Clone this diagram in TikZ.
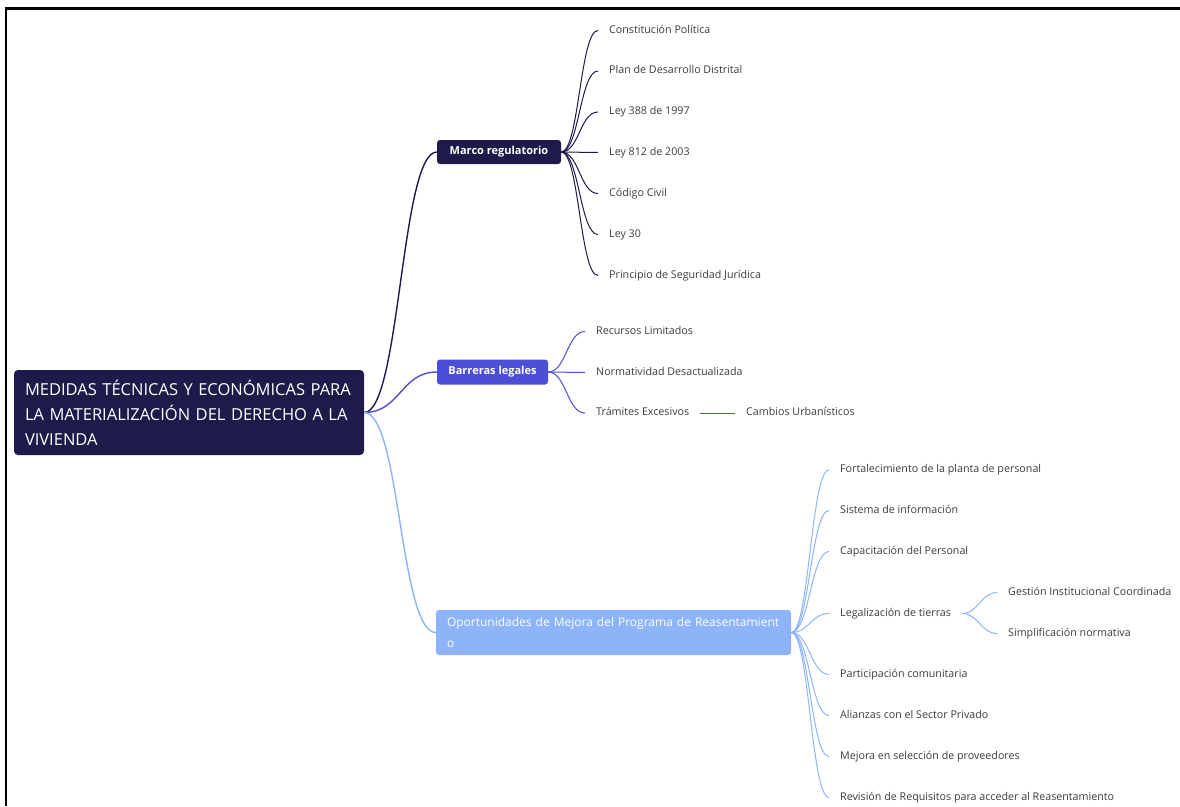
\documentclass[tikz,border=0pt]{standalone}
\usepackage{fontspec}
\setmainfont{Open Sans}
\definecolor{navy}{HTML}{1E1B4B}
\definecolor{indigo}{HTML}{4B4FD6}
\definecolor{sky}{HTML}{8DB4F8}
\definecolor{leafgray}{HTML}{3C3C3C}
\tikzset{rootbox/.style = {fill=navy, text=white, rounded corners=4pt, minimum height=85pt, text width=328pt, inner xsep=11pt, align=left, font=\fontsize{16.5}{25}\selectfont}}
\tikzset{topic/.style = {rounded corners=3pt, text=white, inner sep=0pt, font=\bfseries\fontsize{11}{13}\selectfont}}
\tikzset{leaf/.style = {anchor=west, inner xsep=11pt, inner ysep=0pt, text height=8pt, text depth=2.5pt, text=leafgray, font=\fontsize{10.7}{13}\selectfont}}
\tikzset{branch/.style = {out=0, in=180, distance=#1}}

\begin{document}
\begin{tikzpicture}[x=1pt, y=-1pt]
\useasboundingbox (0,0) rectangle (1180,806);
\draw[line width=2.5pt] (6,806) -- (6,8.5) -- (1180,8.5);
% main topics
\node[rootbox] (root) at (189,412.5) {MEDIDAS TÉCNICAS Y ECONÓMICAS PARA\\LA MATERIALIZACIÓN DEL DERECHO A LA\\VIVIENDA};
\node[topic, fill=navy, minimum width=124pt, minimum height=24pt] (marco) at (499,152) {Marco regulatorio};
\node[topic, fill=indigo, minimum width=111pt, minimum height=25pt] (barreras) at (492.5,372) {Barreras legales};
\node[topic, fill=sky, font=\fontsize{12}{20.5}\selectfont, text width=333pt, inner xsep=11pt, minimum height=45pt, align=left] (mejora) at (613.5,632.5) {\mbox{Oportunidades de Mejora del Programa de Reasentamient}\\o};
\draw[navy, line width=1.4pt] (root.east) to[branch=36pt] (marco.west);
\draw[indigo, line width=1.4pt] (root.east) to[branch=36pt] (barreras.west);
\draw[sky, line width=1.4pt] (root.east) to[branch=36pt] (mejora.west);
% Marco regulatorio
\node[leaf] (cpol) at (598,30.5) {Constitución Política};
\node[leaf] (pdd) at (598,71) {Plan de Desarrollo Distrital};
\node[leaf] (ley388) at (598,112) {Ley 388 de 1997};
\node[leaf] (ley812) at (598,152.5) {Ley 812 de 2003};
\node[leaf] (ccivil) at (598,193.5) {Código Civil};
\node[leaf] (ley30) at (598,234.5) {Ley 30};
\node[leaf] (psj) at (598,275.5) {Principio de Seguridad Jurídica};
\draw[navy, line width=1pt] (marco.east) to[branch=18pt] (cpol.west);
\draw[navy, line width=1pt] (marco.east) to[branch=18pt] (pdd.west);
\draw[navy, line width=1pt] (marco.east) to[branch=18pt] (ley388.west);
\draw[navy, line width=1pt] (marco.east) to[branch=18pt] (ley812.west);
\draw[navy, line width=1pt] (marco.east) to[branch=18pt] (ccivil.west);
\draw[navy, line width=1pt] (marco.east) to[branch=18pt] (ley30.west);
\draw[navy, line width=1pt] (marco.east) to[branch=18pt] (psj.west);
% Barreras legales
\node[leaf] (recursos) at (585,331.5) {Recursos Limitados};
\node[leaf] (normat) at (585,372.5) {Normatividad Desactualizada};
\node[leaf] (tramites) at (585,413) {Trámites Excesivos};
\node[leaf] (cambios) at (735,413) {Cambios Urbanísticos};
\draw[indigo, line width=1pt] (barreras.east) to[branch=18pt] (recursos.west);
\draw[indigo, line width=1pt] (barreras.east) to[branch=18pt] (normat.west);
\draw[indigo, line width=1pt] (barreras.east) to[branch=18pt] (tramites.west);
\draw[indigo, line width=1pt] (tramites.east) -- (cambios.west);
% Oportunidades de mejora
\node[leaf] (fortal) at (829,470) {Fortalecimiento de la planta de personal};
\node[leaf] (sistema) at (829,510.5) {Sistema de información};
\node[leaf] (capac) at (829,551.5) {Capacitación del Personal};
\node[leaf] (legal) at (829,613.5) {Legalización de tierras};
\node[leaf] (partic) at (829,674.5) {Participación comunitaria};
\node[leaf] (alianzas) at (829,715.5) {Alianzas con el Sector Privado};
\node[leaf] (provee) at (829,756.5) {Mejora en selección de proveedores};
\node[leaf] (revision) at (829,797.5) {Revisión de Requisitos para acceder al Reasentamiento};
\node[leaf] (gestion) at (997,592.5) {Gestión Institucional Coordinada};
\node[leaf] (simplif) at (997,633.5) {Simplificación normativa};
\draw[sky, line width=1pt] (mejora.east) to[branch=18pt] (fortal.west);
\draw[sky, line width=1pt] (mejora.east) to[branch=18pt] (sistema.west);
\draw[sky, line width=1pt] (mejora.east) to[branch=18pt] (capac.west);
\draw[sky, line width=1pt] (mejora.east) to[branch=18pt] (legal.west);
\draw[sky, line width=1pt] (mejora.east) to[branch=18pt] (partic.west);
\draw[sky, line width=1pt] (mejora.east) to[branch=18pt] (alianzas.west);
\draw[sky, line width=1pt] (mejora.east) to[branch=18pt] (provee.west);
\draw[sky, line width=1pt] (mejora.east) to[branch=18pt] (revision.west);
\draw[sky, line width=1pt] (legal.east) to[branch=16pt] (gestion.west);
\draw[sky, line width=1pt] (legal.east) to[branch=16pt] (simplif.west);
\end{tikzpicture}
\end{document}
